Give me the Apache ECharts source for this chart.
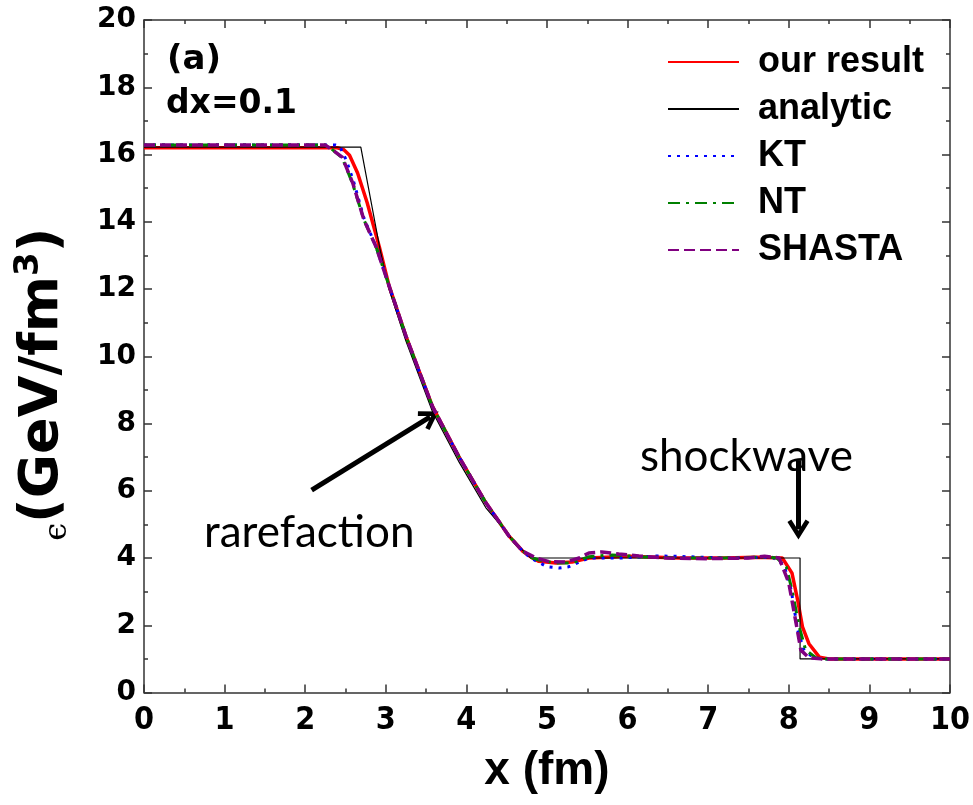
<!DOCTYPE html>
<html>
<head>
<meta charset="utf-8">
<script src="https://cdn.jsdelivr.net/npm/echarts@6/dist/echarts.min.js"></script>
<style>
  html, body { margin: 0; padding: 0; background: #fff; }
  #chart { width: 973px; height: 805px; }
</style>
</head>
<body>
<div id="chart"></div>
<script>
// energy density profiles, [x (fm), e (GeV/fm^3)]
var ourResult = [[0,16.2],[2.4,16.2],[2.48,16.14],[2.55,15.98],[2.65,15.45],[2.77,14.56],[2.92,13.25],[3.04,12.1],
  [3.25,10.6],[3.58,8.5],[3.91,7.0],[4.24,5.65],[4.53,4.65],[4.7,4.2],[4.82,4.0],[4.9,3.9],[5.11,3.85],[5.31,3.88],
  [5.52,4.0],[6.02,4.05],[6.64,4.0],[7.2,4.0],[7.6,4.02],[7.92,4.0],[8.04,3.55],[8.11,2.75],[8.17,1.95],[8.25,1.45],
  [8.38,1.05],[8.5,1.0],[10,1.0]];
var analytic = [[0,16.22],[2.69,16.22],[2.93,13.16],[3.04,12.0],[3.25,10.45],[3.58,8.35],[3.91,6.85],[4.24,5.5],
  [4.45,4.9],[4.6,4.45],[4.8,4.0],[8.14,4.0],[8.14,1.0],[10,1.0]];
var kt = [[0,16.28],[2.38,16.28],[2.43,16.24],[2.51,15.83],[2.6,15.2],[2.73,14.1],[2.88,13.25],[3.04,12.1],[3.25,10.6],
  [3.58,8.5],[3.91,7.0],[4.24,5.65],[4.53,4.65],[4.7,4.2],[4.8,4.0],[5.0,3.74],[5.15,3.7],[5.27,3.74],[5.4,3.88],
  [5.52,4.0],[5.93,4.0],[6.36,4.06],[6.6,4.05],[7.2,4.0],[7.8,4.02],[7.94,3.8],[8.03,3.05],[8.11,1.86],[8.19,1.26],
  [8.31,1.03],[8.45,1.0],[10,1.0]];
var nt = [[0,16.28],[2.25,16.28],[2.32,16.18],[2.46,15.9],[2.59,15.12],[2.73,14.05],[2.88,13.25],[3.04,12.1],[3.25,10.6],
  [3.58,8.5],[3.91,7.0],[4.24,5.65],[4.53,4.65],[4.7,4.2],[4.82,4.0],[4.9,3.94],[5.11,3.85],[5.31,3.85],[5.52,4.04],
  [5.81,4.09],[6.14,4.04],[6.6,4.0],[7.2,4.0],[7.7,4.03],[7.85,4.0],[7.97,3.73],[8.04,3.05],[8.13,1.95],[8.21,1.26],
  [8.34,1.03],[8.45,1.0],[10,1.0]];
var shasta = [[0,16.28],[2.25,16.28],[2.3,16.2],[2.46,15.92],[2.59,15.15],[2.73,14.05],[2.88,13.25],[3.04,12.1],[3.25,10.6],
  [3.58,8.5],[3.91,7.0],[4.24,5.65],[4.53,4.65],[4.7,4.2],[4.87,4.0],[5.03,3.89],[5.24,3.88],[5.4,4.0],[5.52,4.15],
  [5.68,4.18],[5.89,4.12],[6.14,4.06],[6.48,4.0],[7.0,3.98],[7.5,4.0],[7.7,4.05],[7.88,4.0],[8.0,3.26],[8.09,2.07],
  [8.15,1.26],[8.25,1.03],[8.4,1.0],[10,1.0]];

var seriesNames = ['our result', 'analytic', 'KT', 'NT', 'SHASTA'];

// annotation arrows in data units: [tail, tip]
var rareArrow = [[2.08, 6.02], [3.55, 8.2]];
var shockArrow = [[8.12, 6.91], [8.12, 4.85]];

var chart = echarts.init(document.getElementById('chart'));

var chevron = 'path://M0,14 L10,0 L20,14 L16.5,16 L10,7 L3.5,16 Z';
var labelFont = 'Liberation Sans';

function makeLine(name, data, color, width, type, z) {
  return {
    name: name,
    type: 'line',
    data: data,
    symbol: 'none',
    smooth: false,
    z: z,
    lineStyle: { color: color, width: width, type: type },
    itemStyle: { color: color }
  };
}

var arrowSeries = {
  type: 'line',
  data: [],
  symbol: 'none',
  silent: true,
  markLine: {
    silent: true,
    symbol: ['none', chevron],
    symbolSize: [22, 20],
    label: { show: false },
    lineStyle: { color: '#000', width: 5, type: 'solid' },
    data: [
      [{ coord: rareArrow[0] }, { coord: rareArrow[1] }],
      [{ coord: shockArrow[0] }, { coord: shockArrow[1] }]
    ]
  }
};

var axisLineStyle = { color: '#333', width: 1.5 };

function frameAxis(extra) {
  var base = {
    type: 'value',
    axisLine: { show: true, onZero: false, lineStyle: axisLineStyle },
    axisTick: { show: true, inside: true, length: 8, lineStyle: axisLineStyle },
    minorTick: { show: true, splitNumber: 2, length: 4, lineStyle: axisLineStyle },
    splitLine: { show: false },
    axisLabel: { show: false }
  };
  return Object.assign(base, extra);
}

var option = {
  animation: false,
  backgroundColor: '#fff',
  grid: { left: 144, right: 21, top: 20, bottom: 112.5 },
  legend: {
    data: seriesNames,
    orient: 'vertical',
    left: 662,
    top: 39,
    itemWidth: 71,
    itemHeight: 2,
    itemGap: 11,
    itemStyle: { opacity: 0 },
    textStyle: {
      fontFamily: labelFont,
      fontWeight: 'bold',
      fontSize: 36,
      lineHeight: 36,
      color: '#000',
      padding: [0, 0, 0, 14]
    }
  },
  xAxis: [
    frameAxis({
      min: 0, max: 10, interval: 1,
      name: 'x (fm)',
      nameLocation: 'middle',
      nameGap: 56,
      nameTextStyle: { fontFamily: labelFont, fontWeight: 'bold', fontSize: 46, color: '#000' },
      axisLabel: {
        show: true, fontFamily: '"DejaVu Sans Condensed", "Liberation Sans"', fontWeight: 'bold',
        fontSize: 32, color: '#000', margin: 12
      }
    }),
    frameAxis({ position: 'top', min: 0, max: 10, interval: 1 })
  ],
  yAxis: [
    frameAxis({
      min: 0, max: 20, interval: 2,
      name: '{eps|ϵ}{b|(GeV/fm}{sup|3}{b|)}',
      nameLocation: 'middle',
      nameGap: 70,
      nameTextStyle: {
        color: '#000',
        padding: [0, 56, 0, 0],
        rich: {
          eps: { fontFamily: 'DejaVu Serif', fontSize: 32, color: '#000', verticalAlign: 'bottom' },
          b: { fontFamily: 'DejaVu Sans', fontWeight: 'bold', fontSize: 54, color: '#000', lineHeight: 62 },
          sup: { fontFamily: 'DejaVu Sans', fontWeight: 'bold', fontSize: 34, color: '#000', verticalAlign: 'top' }
        }
      },
      axisLabel: { show: true, fontFamily: 'DejaVu Sans', fontWeight: 'bold', fontSize: 28, color: '#000', margin: 8 }
    }),
    frameAxis({ position: 'right', min: 0, max: 20, interval: 2 })
  ],
  graphic: [
    { type: 'text', left: 167, top: 43, style: { text: '(a)', font: 'bold 34px "DejaVu Sans"', fill: '#000' } },
    { type: 'text', left: 166, top: 88, style: { text: 'dx=0.1', font: 'bold 33px "DejaVu Sans"', fill: '#000' } },
    { type: 'text', left: 640, top: 435, style: { text: 'shockwave', font: '44px Lato', fill: '#000' } },
    { type: 'text', left: 204, top: 511, style: { text: 'rarefaction', font: '44px Lato', fill: '#000' } }
  ],
  series: [
    makeLine('our result', ourResult, '#ff0000', 3.5, 'solid', 5),
    makeLine('analytic', analytic, '#000000', 1.2, 'solid', 6),
    makeLine('KT', kt, '#0000ff', 3, [3, 6], 7),
    makeLine('NT', nt, '#008000', 3, [12, 6, 3, 6], 8),
    makeLine('SHASTA', shasta, '#800080', 3.5, [11, 5], 9),
    arrowSeries
  ]
};

chart.setOption(option);
</script>
</body>
</html>
